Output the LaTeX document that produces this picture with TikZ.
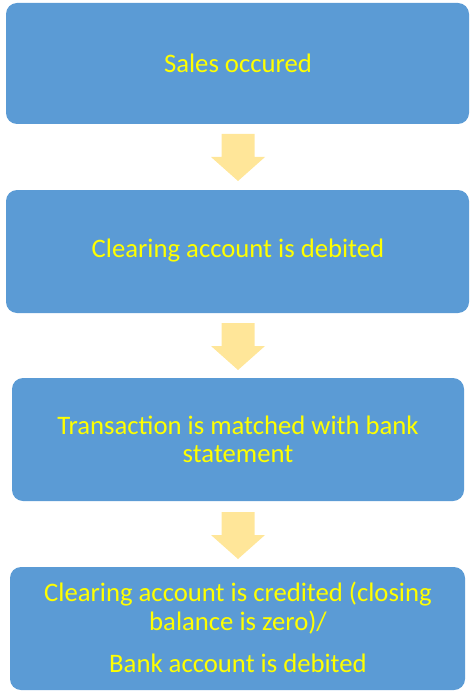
\documentclass[tikz,border=0pt]{standalone}
\usepackage{fontspec}
\setmainfont{Carlito}
\definecolor{boxblue}{HTML}{5B9BD5}
\definecolor{arrowyel}{HTML}{FFE699}
\definecolor{txtyel}{HTML}{FFFF00}
\begin{document}
\begin{tikzpicture}[x=1pt,y=-1pt,
  box/.style={fill=boxblue,draw=none,rounded corners=11pt},
  lbl/.style={text=txtyel,font=\fontsize{26.7}{30}\selectfont,inner sep=0pt,anchor=center},
  blockarrow/.style={fill=arrowyel,draw=none}]
\useasboundingbox (0,0) rectangle (473,695);
% boxes
\path[box] (6,3) rectangle (469,124);
\path[box] (6,190) rectangle (469,313);
\path[box] (12,378) rectangle (464,501);
\path[box] (10,567) rectangle (465,690);
% labels
\node[lbl] (t1) at (238,63) {Sales occured};
\node[lbl] (t2) at (238,251) {Clearing account is debited};
\node[lbl] (t3a) at (238,425) {Transaction is matched with bank};
\node[lbl] (t3b) at (238,454) {statement};
\node[lbl] (t4a) at (238,594) {Clearing account is credited (closing};
\node[lbl] (t4b) at (238,623) {balance is zero)/};
\node[lbl] (t4c) at (238,663) {Bank account is debited};
% block arrows
\foreach \y in {134,323,512}{
  \path[blockarrow] (221.5,\y) -- (254.5,\y) -- (254.5,\y+23) -- (265,\y+23)
    -- (238,\y+47) -- (211,\y+23) -- (221.5,\y+23) -- cycle;
}
\end{tikzpicture}
\end{document}
